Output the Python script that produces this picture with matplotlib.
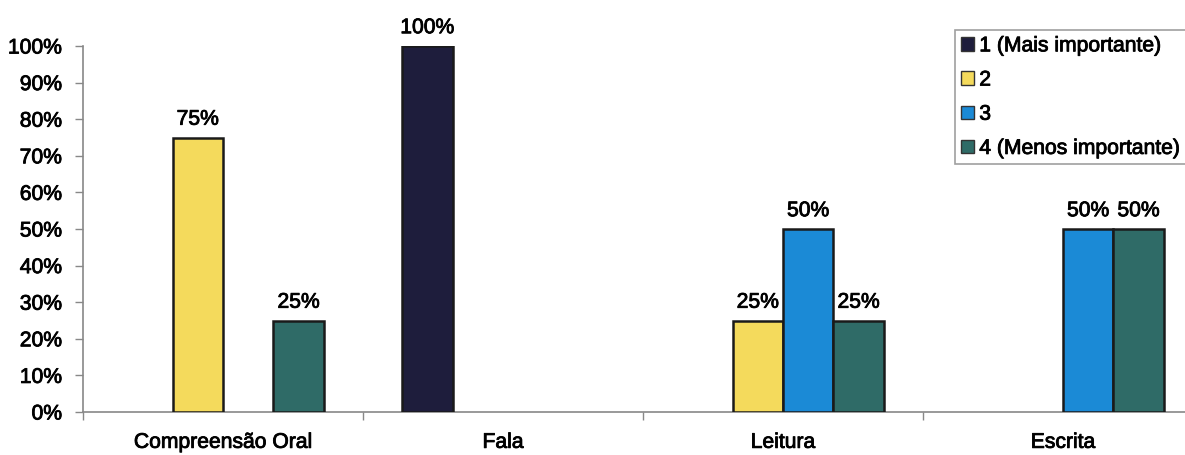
import matplotlib
matplotlib.use("Agg")
import matplotlib.pyplot as plt
import matplotlib.patheffects as pe
import numpy as np
from matplotlib.patches import Patch

categories = ["Compreensão Oral", "Fala", "Leitura", "Escrita"]
series_names = ["1 (Mais importante)", "2", "3", "4 (Menos importante)"]
values = {
    "1 (Mais importante)": [0, 100, 0, 0],
    "2": [75, 0, 25, 0],
    "3": [0, 0, 50, 50],
    "4 (Menos importante)": [25, 0, 25, 50],
}
colors = ["#1e1d3c", "#f4da5c", "#1b8ad6", "#2f6b67"]
y_ticks = list(range(0, 101, 10))

plt.rcParams["font.family"] = ["Liberation Sans", "DejaVu Sans"]
FS = 15.2
heavy = [pe.withStroke(linewidth=0.6, foreground="black")]

fig = plt.figure(figsize=(11.85, 4.55), dpi=100)
ax = fig.add_axes([83 / 1185, 1 - 412 / 455, 1120 / 1185, (412 - 46) / 455])

bar_w = 0.18
offset0 = 0.14 + bar_w / 2
x0 = np.arange(len(categories))
for i, name in enumerate(series_names):
    vals = values[name]
    xs = x0 + offset0 + i * bar_w
    for x, v in zip(xs, vals):
        if v > 0:
            ax.bar(x, v, width=bar_w, color=colors[i], edgecolor="#1a1a1a",
                   linewidth=1.8, align="center", zorder=3)
            ax.text(x, v + 2.4, f"{v}%", ha="center", va="bottom",
                    fontsize=FS, color="black", path_effects=heavy)

ax.set_xlim(0, len(categories))
ax.set_ylim(0, 100)
ax.set_yticks(y_ticks)
ax.set_yticklabels([f"{t}%" for t in y_ticks], fontsize=FS, color="black")
ax.tick_params(axis="y", direction="out", length=6, width=1, color="#888888", pad=9)

ax.set_xticks(x0 + 0.5)
ax.set_xticklabels(categories, fontsize=FS, color="black")
ax.tick_params(axis="x", which="major", length=0, pad=15)
ax.set_xticks(np.arange(0, len(categories) + 1), minor=True)
ax.tick_params(axis="x", which="minor", direction="out", length=6, width=1, color="#888888")
for lbl in ax.get_xticklabels() + ax.get_yticklabels():
    lbl.set_path_effects(heavy)

for s in ["top", "right"]:
    ax.spines[s].set_visible(False)
for s in ["left", "bottom"]:
    ax.spines[s].set_color("#888888")
    ax.spines[s].set_linewidth(1.2)

handles = [Patch(facecolor=c, edgecolor="#333333", linewidth=1) for c in colors]
leg = fig.legend(handles, series_names, loc="upper left",
                 bbox_to_anchor=(955 / 1185, 1 - 30 / 455),
                 fontsize=FS, frameon=True, fancybox=False, edgecolor="#888888",
                 handlelength=0.6, handleheight=0.6, handletextpad=0.25,
                 labelspacing=0.72, borderpad=0.3, borderaxespad=0)
leg.get_frame().set_linewidth(1.2)
for t in leg.get_texts():
    t.set_path_effects(heavy)

fig.savefig("out.png", dpi=100, facecolor="white")
